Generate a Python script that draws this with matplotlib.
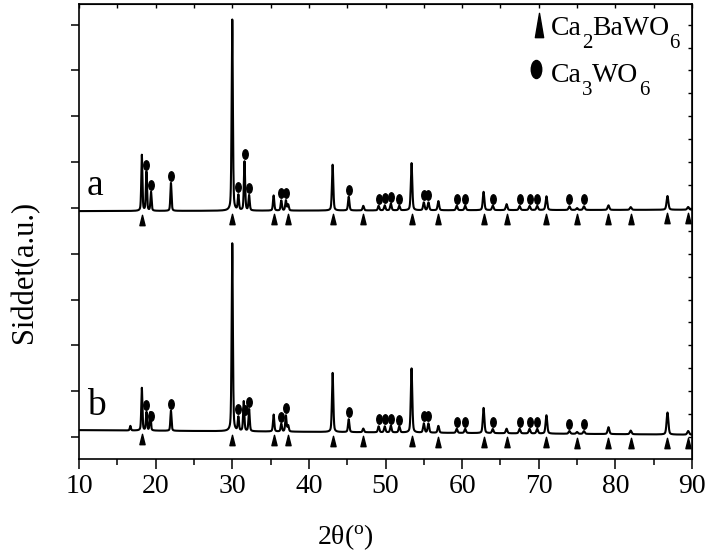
import numpy as np
import matplotlib.pyplot as plt
from matplotlib.markers import MarkerStyle
from matplotlib.path import Path
from matplotlib.ticker import MultipleLocator
from matplotlib.transforms import Affine2D

plt.rcParams['font.family'] = 'Liberation Serif'
plt.rcParams['mathtext.fontset'] = 'custom'
plt.rcParams['mathtext.rm'] = 'Liberation Serif'
plt.rcParams['mathtext.it'] = 'Liberation Serif:italic'

# ---------------------------------------------------------
# Reflections of both patterns (2theta, peak height)
# ---------------------------------------------------------
a_pos = [18.2, 18.8, 19.4, 22.0, 30.0, 30.8, 31.6, 32.2, 35.4, 36.4, 37.0, 37.3,
         43.1, 45.2, 47.1, 49.1, 49.9, 50.7, 51.8, 53.4, 55.0, 55.6, 56.9,
         59.3, 60.4, 62.8, 64.0, 65.8, 67.5, 68.8, 69.8, 71.0, 74.0, 75.0,
         75.9, 79.1, 82.0, 86.8, 89.5]
a_int = [1.22, 0.85, 0.41, 0.61, 4.17, 0.33, 1.07, 0.33, 0.33, 0.22, 0.22, 0.13,
         1.00, 0.30, 0.10, 0.10, 0.11, 0.15, 0.10, 1.03, 0.17, 0.17, 0.20,
         0.10, 0.10, 0.40, 0.10, 0.13, 0.09, 0.09, 0.09, 0.30, 0.08, 0.04,
         0.08, 0.10, 0.06, 0.30, 0.06]

b_pos = [16.7, 18.2, 18.8, 19.3, 22.0, 30.0, 30.8, 31.5, 32.2, 35.4, 36.4, 37.0,
         37.3, 43.1, 45.2, 47.1, 49.1, 49.9, 50.7, 51.8, 53.4, 55.0, 55.6,
         56.9, 59.3, 60.4, 62.8, 64.0, 65.8, 67.5, 68.8, 69.8, 71.0, 74.0,
         75.0, 75.9, 79.1, 82.0, 86.8, 89.5]
b_int = [0.10, 0.93, 0.40, 0.40, 0.44, 4.10, 0.30, 0.65, 0.48, 0.37, 0.17, 0.35,
         0.13, 1.29, 0.28, 0.08, 0.13, 0.13, 0.15, 0.13, 1.40, 0.20, 0.20,
         0.15, 0.09, 0.09, 0.55, 0.09, 0.10, 0.10, 0.10, 0.10, 0.40, 0.06,
         0.04, 0.06, 0.15, 0.08, 0.48, 0.08]

# background level at 10 and 90 degrees
a_bg = [4.93, 4.96]
b_bg = [0.15, 0.05]

# phase reflections
ca2bawo6_pos = [18.2, 30.0, 35.4, 37.3, 43.1, 47.1, 53.4, 56.9, 62.8, 65.8,
                71.0, 75.0, 79.1, 82.0, 86.8, 89.5]
ca3wo6_pos = [18.8, 19.4, 22.0, 30.8, 31.6, 32.2, 36.4, 37.0, 45.2, 49.1, 49.9,
              50.7, 51.8, 55.0, 55.6, 59.3, 60.4, 64.0, 67.5, 68.8, 69.8, 74.0, 75.9]

W, H = 707, 559


def pattern(x, pos, inten, bg):
    """Sum of pseudo-Voigt peaks on a linear background"""
    y = np.interp(x, [10, 90], bg)
    for p, h in zip(pos, inten):
        w = 0.16 + 0.0015 * (p - 10)
        d = (x - p) / w
        y = y + h * (0.6 * np.exp(-4 * np.log(2) * d**2) + 0.4 / (1 + 4 * d**2))
    return y


def triangle(half_w):
    return MarkerStyle(Path([(-half_w, -1), (half_w, -1), (0, 1), (-half_w, -1)],
                            [Path.MOVETO, Path.LINETO, Path.LINETO, Path.CLOSEPOLY]))


def formula(fig, x_px, y_px, parts, size=20, sub_size=15, drop=13):
    """Write a formula piece by piece, subscripts lowered by `drop` pixels"""
    renderer = fig.canvas.get_renderer()
    cur = x_px
    for s, sub in parts:
        t = fig.text(cur / W, 1 - (y_px + (drop if sub else 0)) / H, s,
                     fontsize=sub_size if sub else size, va='baseline')
        cur += t.get_window_extent(renderer).width


tri = triangle(0.5)
ell = MarkerStyle(Path.unit_circle().transformed(Affine2D().scale(0.58, 1.0)))

x = np.arange(10, 90.001, 0.01)
ya = pattern(x, a_pos, a_int, a_bg)
yb = pattern(x, b_pos, b_int, b_bg)

fig = plt.figure(figsize=(W / 100, H / 100), dpi=100)
ax = fig.add_axes([79 / W, 1 - 459 / H, 613 / W, 455 / H])

for y, bg in [(ya, a_bg), (yb, b_bg)]:
    ax.plot(x, y, color='black', lw=1.5)
    ty = np.interp(ca2bawo6_pos, [10, 90], bg) - 0.19
    ax.plot(ca2bawo6_pos, ty, ls='none', marker=tri, ms=7.5, color='black')
    cy = np.interp(ca3wo6_pos, x, y) + 0.15
    ax.plot(ca3wo6_pos, cy, ls='none', marker=ell, ms=6.8, color='black')

ax.text(0.013, 0.58, 'a', transform=ax.transAxes, fontsize=27, va='baseline')
ax.text(0.013, 0.097, 'b', transform=ax.transAxes, fontsize=27, va='baseline')

# phase key
fig.lines.append(plt.Line2D([539 / W], [1 - 25 / H], transform=fig.transFigure,
                            marker=triangle(0.34), ms=17.5, color='black', ls='none'))
fig.lines.append(plt.Line2D([536 / W], [1 - 69 / H], transform=fig.transFigure,
                            marker=ell, ms=13, color='black', ls='none'))
formula(fig, 551, 35, [('Ca', False), ('2', True), ('BaWO', False), ('6', True)])
formula(fig, 551, 82, [('Ca', False), ('3', True), ('WO', False), ('6', True)])

ax.set_xlim(10, 90)
ax.set_ylim(-0.48, 9.45)
ax.xaxis.set_major_locator(MultipleLocator(10))
ax.xaxis.set_minor_locator(MultipleLocator(5))
ax.yaxis.set_major_locator(MultipleLocator(1))
ax.tick_params(axis='x', which='major', direction='out', length=7, width=1.1,
               labelsize=20, pad=4)
ax.tick_params(axis='x', which='minor', direction='out', length=4, width=1.1)
ax.tick_params(axis='y', which='major', direction='out', length=6, width=1.1,
               labelleft=False)
for s in ax.spines.values():
    s.set_linewidth(1.2)

top = ax.secondary_xaxis('top')
top.xaxis.set_major_locator(MultipleLocator(5))
top.tick_params(direction='in', length=3, width=1.0, labeltop=False)
right = ax.secondary_yaxis('right')
right.yaxis.set_major_locator(MultipleLocator(0.5))
right.tick_params(direction='in', length=3, width=1.0, labelright=False)

fig.text(345 / W, 1 - 537 / H, r'2θ($^{\mathregular{o}}$)', fontsize=20,
         ha='center', va='center')
fig.text(25 / W, 1 - 272 / H, 'Siddet(a.u.)', fontsize=22, rotation=90,
         ha='center', va='center')

fig.savefig('out.png', dpi=100)
